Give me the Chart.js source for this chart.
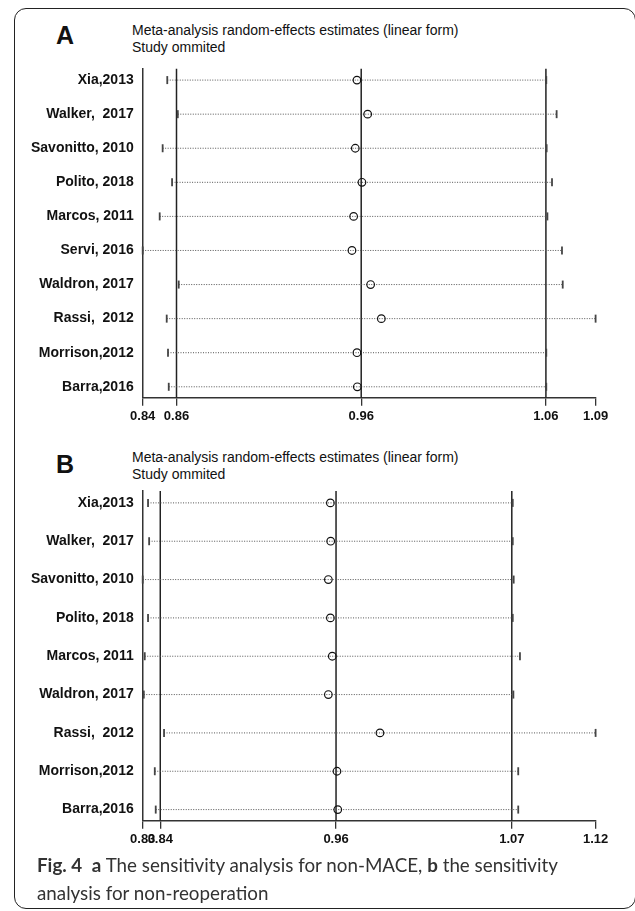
<!DOCTYPE html>
<html>
<head>
<meta charset="utf-8">
<title>Sensitivity analysis</title>
<script src="https://cdn.jsdelivr.net/npm/chart.js@4.4.1/dist/chart.umd.min.js"></script>
<style>
  body { margin: 0; background: #fff; }
  #page { position: relative; width: 635px; height: 911px; overflow: hidden; font-family: "Liberation Sans", Arial, sans-serif; color: #111; }
  .frame { position: absolute; left: 14px; top: 8px; width: 622px; height: 901px; border: 1.5px solid #222; border-radius: 12px; box-sizing: border-box; }
  .letter { position: absolute; left: 56px; font-size: 25px; line-height: 25px; font-weight: bold; }
  .head { position: absolute; left: 132px; font-size: 14px; line-height: 16.5px; }
  canvas { position: absolute; left: 0; }
  .caption { position: absolute; left: 37px; top: 851px; font-family: Lato, "Noto Sans", sans-serif; font-size: 18.8px; line-height: 28px; color: #333; white-space: nowrap; }
</style>
</head>
<body>
<div id="page">
  <div class="frame"></div>

  <div class="letter" style="top:23px">A</div>
  <div class="head" style="top:22px">Meta-analysis random-effects estimates (linear form)<br>Study ommited</div>
  <canvas id="panelA" width="635" height="440" style="top:0"></canvas>

  <div class="letter" style="top:452px">B</div>
  <div class="head" style="top:449px">Meta-analysis random-effects estimates (linear form)<br>Study ommited</div>
  <canvas id="panelB" width="635" height="420" style="top:440px"></canvas>

  <div class="caption"><b>Fig. 4</b>&nbsp; <b>a</b> The sensitivity analysis for non-MACE, <b>b</b> the sensitivity<br>analysis for non-reoperation</div>
</div>

<script>
// A: non-MACE, one row per omitted study
const studiesA = ['Xia,2013', 'Walker,  2017', 'Savonitto, 2010', 'Polito, 2018', 'Marcos, 2011',
                  'Servi, 2016', 'Waldron, 2017', 'Rassi,  2012', 'Morrison,2012', 'Barra,2016'];
const estA  = [0.9577, 0.9635, 0.9568, 0.9604, 0.9559, 0.9550, 0.9651, 0.9709, 0.9577, 0.9579];
const lowA  = [0.8550, 0.8607, 0.8525, 0.8576, 0.8509, 0.8417, 0.8612, 0.8547, 0.8554, 0.8558];
const highA = [1.0602, 1.0658, 1.0604, 1.0633, 1.0608, 1.0687, 1.0691, 1.0869, 1.0602, 1.0602];
const overallA = [0.86, 0.96, 1.06]; // lower CI, pooled estimate, upper CI

// B: non-reoperation
const studiesB = ['Xia,2013', 'Walker,  2017', 'Savonitto, 2010', 'Polito, 2018', 'Marcos, 2011',
                  'Waldron, 2017', 'Rassi,  2012', 'Morrison,2012', 'Barra,2016'];
const estB  = [0.9524, 0.9526, 0.9511, 0.9524, 0.9536, 0.9511, 0.9840, 0.9566, 0.9571];
const lowB  = [0.8362, 0.8369, 0.8328, 0.8362, 0.8341, 0.8335, 0.8464, 0.8405, 0.8411];
const highB = [1.0686, 1.0686, 1.0692, 1.0686, 1.0732, 1.0690, 1.1214, 1.0721, 1.0721];
const overallB = [0.844, 0.956, 1.068];

Chart.defaults.font.family = '"Liberation Sans", Arial, sans-serif';
Chart.defaults.color = '#111';

function forestChart(id, names, est, low, high, overall, box) {
    const xMin = Math.min(...low);
    const xMax = Math.max(...high);
    const yMin = 1 - box.padTop;
    const yMax = names.length + box.padBottom;
    const xTicks = [xMin, ...overall, xMax];

    const datasets = [];

    // full-height lines at the pooled estimate and its CI
    overall.forEach(v => {
        datasets.push({
            type: 'line', order: 4,
            data: [{ x: v, y: yMin }, { x: v, y: yMax }],
            borderColor: '#222', borderWidth: 1.5, pointRadius: 0
        });
    });

    // dotted CI per omitted study
    names.forEach((_, i) => {
        datasets.push({
            type: 'line', order: 3,
            data: [{ x: low[i], y: i + 1 }, { x: high[i], y: i + 1 }],
            borderColor: '#555', borderWidth: 1, borderDash: [1, 1.5], pointRadius: 0
        });
    });

    // end caps
    datasets.push({
        type: 'scatter', order: 2, clip: false,
        data: low.map((v, i) => ({ x: v, y: i + 1 })).concat(high.map((v, i) => ({ x: v, y: i + 1 }))),
        pointStyle: 'line', rotation: 90, pointRadius: 4,
        borderColor: '#444', borderWidth: 1.8
    });

    // estimates
    datasets.push({
        type: 'scatter', order: 1,
        data: est.map((v, i) => ({ x: v, y: i + 1 })),
        pointStyle: 'circle', pointRadius: 3.8,
        borderColor: '#111', borderWidth: 1.2, backgroundColor: 'rgba(0,0,0,0)'
    });

    return new Chart(document.getElementById(id), {
        type: 'scatter',
        data: { datasets },
        options: {
            responsive: false,
            animation: false,
            devicePixelRatio: 1,
            layout: { padding: box.padding },
            plugins: { legend: { display: false }, tooltip: { enabled: false } },
            scales: {
                x: {
                    type: 'linear', position: 'bottom', min: xMin, max: xMax,
                    afterBuildTicks: s => { s.ticks = xTicks.map(v => ({ value: v })); },
                    afterFit: s => { s.height = 30; },
                    ticks: {
                        autoSkip: false, maxRotation: 0, padding: 3,
                        font: { size: 13, weight: 'bold' }, color: '#111',
                        callback: v => v.toFixed(2)
                    },
                    grid: { drawOnChartArea: false, drawTicks: true, tickLength: 8, color: '#333', lineWidth: 1.3 },
                    border: { display: true, color: '#333', width: 1.5 }
                },
                y: {
                    type: 'linear', position: 'left', reverse: true, min: yMin, max: yMax,
                    afterBuildTicks: s => { s.ticks = names.map((_, i) => ({ value: i + 1 })); },
                    afterFit: s => { s.width = 142.7; },
                    ticks: {
                        autoSkip: false, padding: 1,
                        font: { size: 14, weight: 'bold' }, color: '#111',
                        callback: v => names[v - 1]
                    },
                    grid: { display: false },
                    border: { display: true, color: '#333', width: 1.5 }
                }
            }
        }
    });
}

forestChart('panelA', studiesA, estA, lowA, highA, overallA, {
    padTop: 0.34, padBottom: 0.32,
    padding: { left: 0, right: 39.4, top: 68.5, bottom: 12.3 }
});

forestChart('panelB', studiesB, estB, lowB, highB, overallB, {
    padTop: 0.31, padBottom: 0.29,
    padding: { left: 0, right: 39.4, top: 51, bottom: 9.3 }
});
</script>
</body>
</html>
